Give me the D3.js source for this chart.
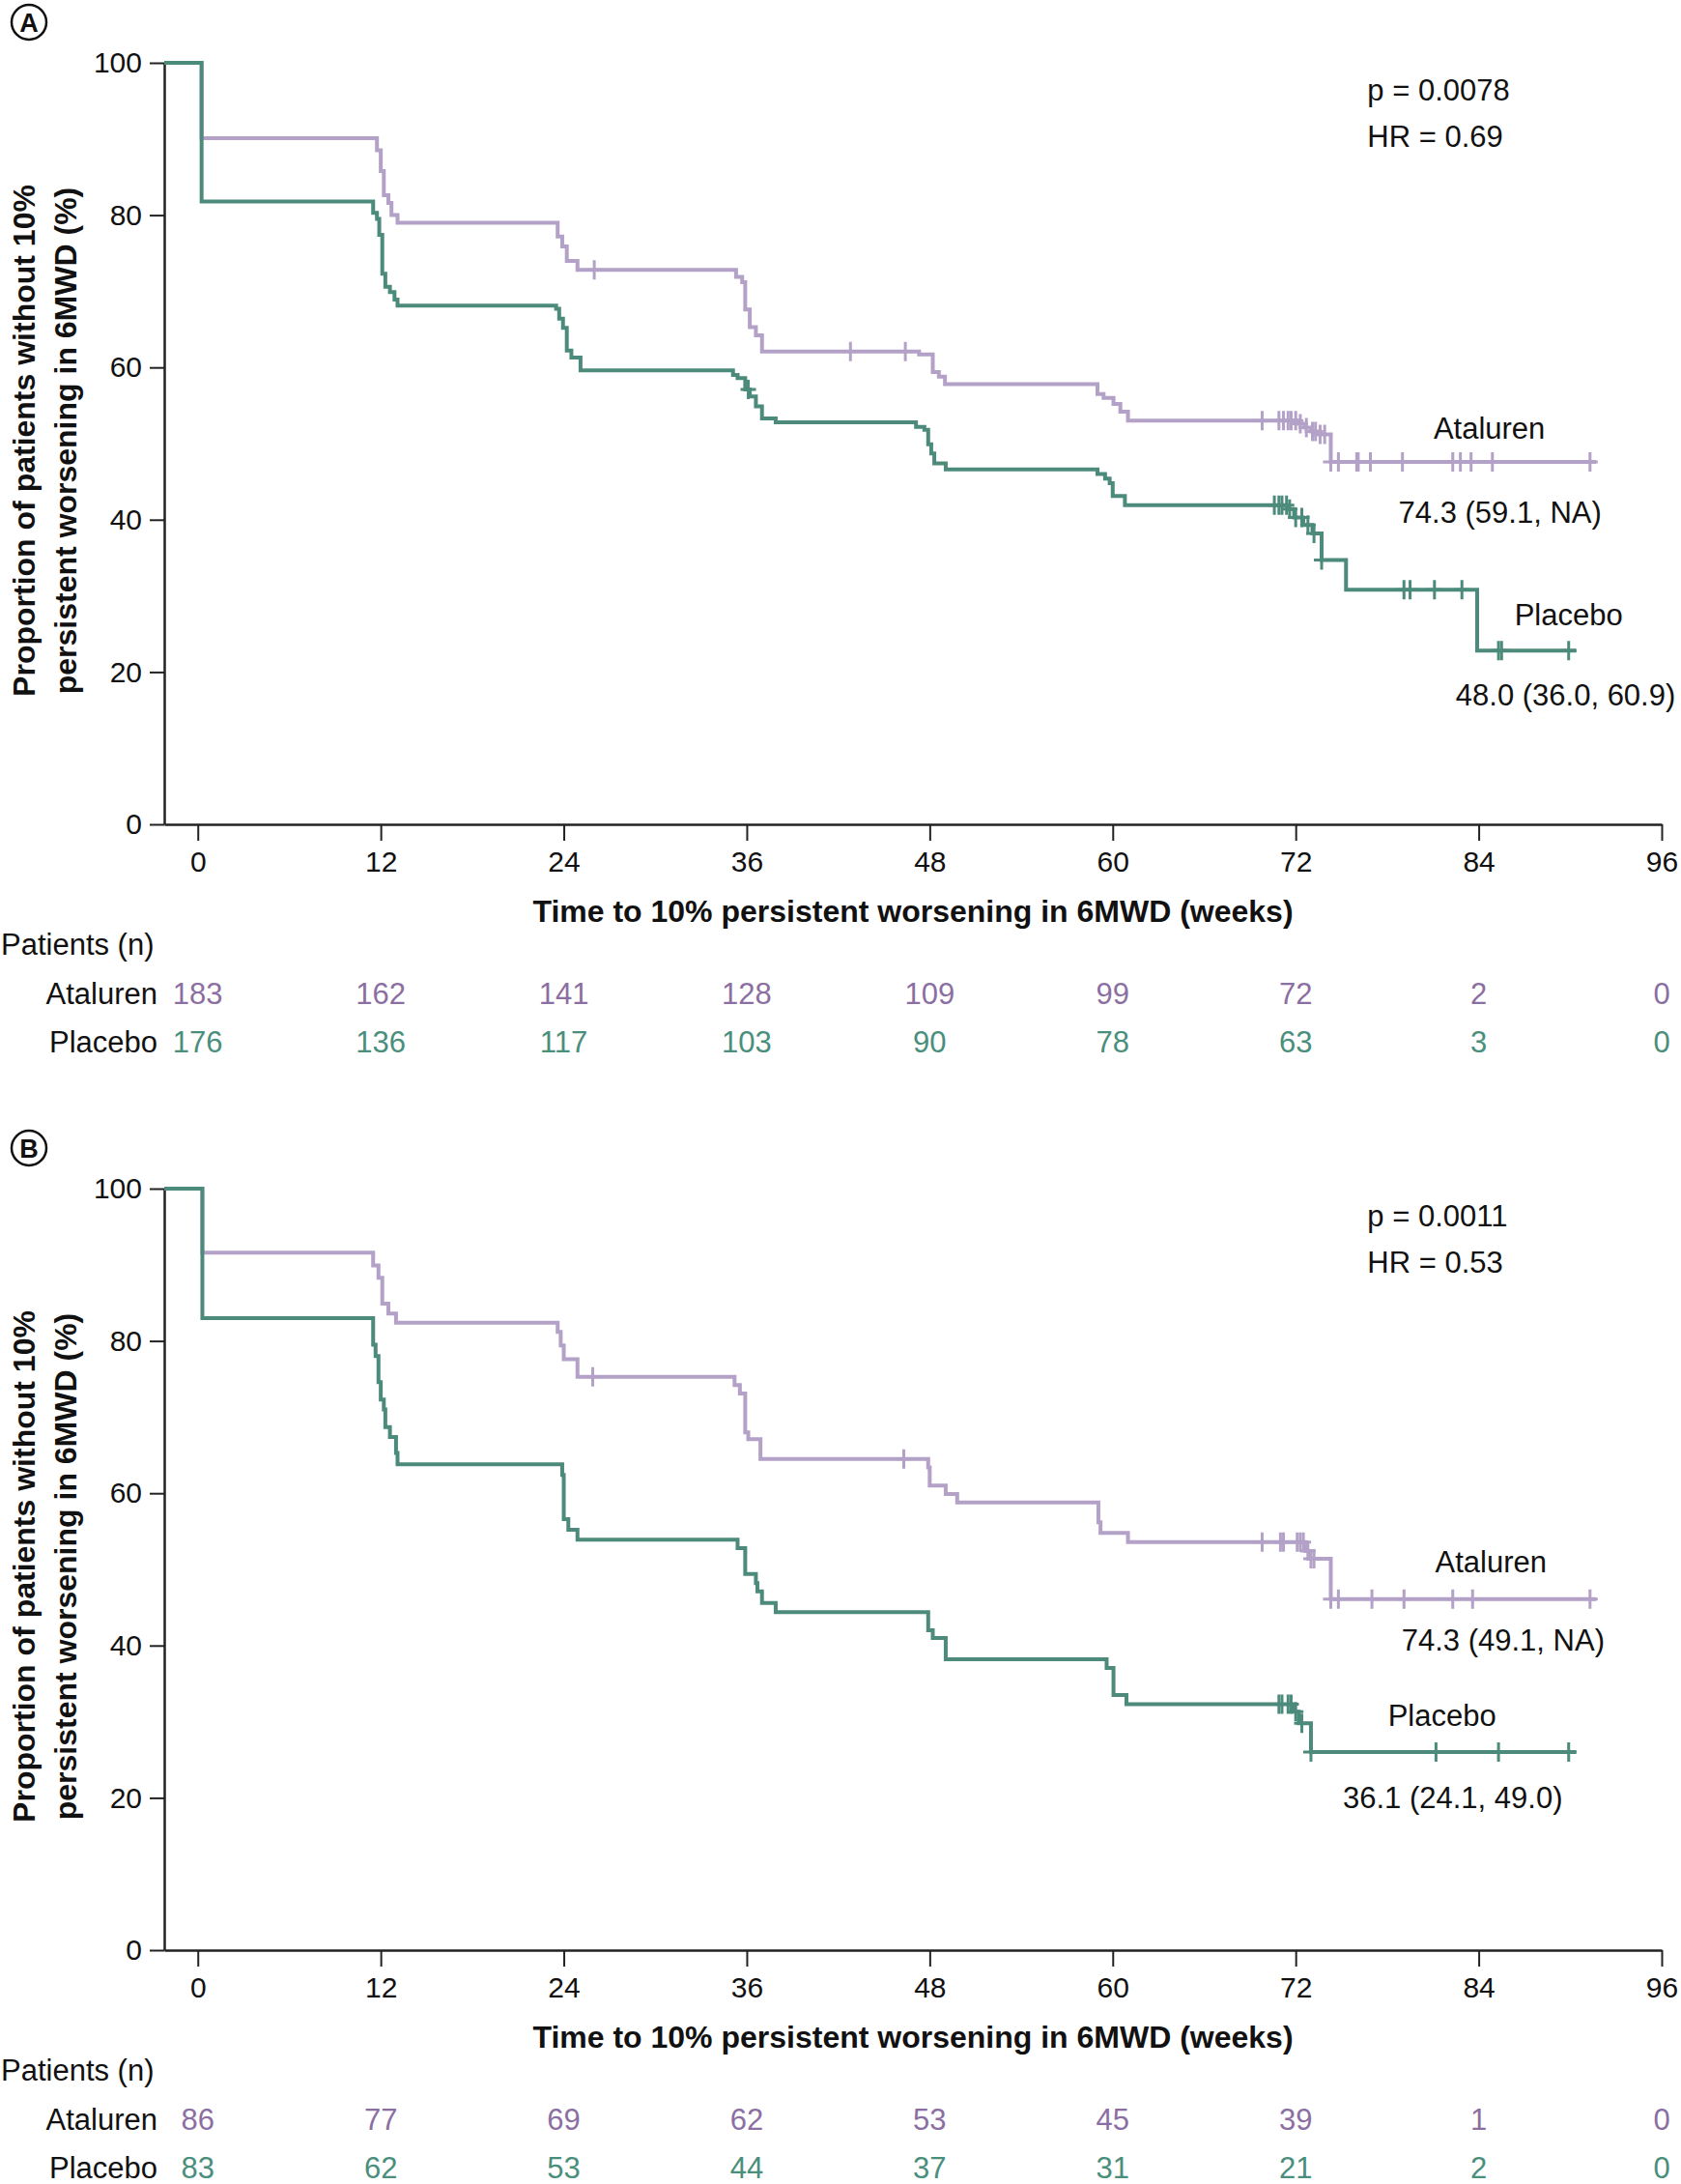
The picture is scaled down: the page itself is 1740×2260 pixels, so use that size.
<!DOCTYPE html>
<html>
<head>
<meta charset="utf-8">
<script src="https://cdn.jsdelivr.net/npm/d3@7"></script>
<style>
  body { margin: 0; background: #fff; }
  svg text { font-family: "Liberation Sans", Arial, sans-serif; fill: #111; }
</style>
</head>
<body>
<div id="chart"></div>
<script>
/* Kaplan-Meier: time to 10% persistent worsening in 6MWD, panels A and B */

const weekTicks = [0, 12, 24, 36, 48, 60, 72, 84, 96];
const pctTicks = [0, 20, 40, 60, 80, 100];
const groups = ["Ataluren", "Placebo"];

// Panel A - steps are [week, % after the drop]
const ataStepsA = [[0.25, 90.1], [11.75, 88.5], [12.0, 85.8], [12.2, 82.6], [12.5, 81.6], [12.7, 80.0],
  [13.1, 79.0], [23.6, 77.2], [23.9, 75.9], [24.2, 74.0], [24.9, 72.8], [35.3, 71.9], [35.7, 71.2],
  [35.9, 67.6], [36.2, 65.3], [36.6, 64.2], [37.0, 62.1], [47.3, 61.7], [48.2, 59.4], [48.6, 58.8],
  [49.0, 57.8], [59.0, 56.5], [59.4, 56.0], [60.05, 55.2], [60.5, 54.2], [61.0, 53.0], [72.2, 52.6],
  [72.6, 52.1], [73.0, 51.6], [73.45, 51.2], [74.3, 47.6]];
const ataCensorA = [26.0, 42.8, 46.4, 69.8, 70.9, 71.2, 71.5, 71.7, 72.0, 72.3, 72.7, 73.1, 73.3,
  73.6, 73.9, 74.3, 74.8, 76.0, 76.1, 76.9, 79.0, 82.3, 82.8, 83.5, 84.9, 91.3];
const ataEndA = 91.7;

const plaStepsA = [[0.25, 81.8], [11.5, 80.3], [11.75, 79.5], [11.9, 77.4], [12.1, 72.3], [12.3, 70.6],
  [12.6, 69.9], [12.9, 68.9], [13.1, 68.1], [23.5, 67.7], [23.7, 66.4], [23.95, 65.2], [24.2, 62.2],
  [24.5, 61.3], [25.1, 59.6], [35.1, 59.0], [35.4, 58.6], [35.9, 57.1], [36.2, 56.2], [36.6, 54.9],
  [37.0, 53.3], [37.9, 52.8], [47.1, 52.2], [47.65, 51.8], [47.9, 49.9], [48.1, 48.7], [48.3, 47.4],
  [49.05, 46.6], [59.0, 46.0], [59.5, 45.4], [59.8, 44.8], [60.0, 43.1], [60.8, 41.9], [71.5, 41.4],
  [71.9, 40.3], [72.5, 39.3], [73.1, 38.2], [73.7, 34.7], [75.3, 30.8], [83.9, 22.8]];
const plaCensorA = [36.1, 70.6, 70.9, 71.1, 71.4, 71.6, 72.0, 72.4, 72.8, 73.2, 73.7, 79.1, 79.5,
  81.1, 82.9, 85.3, 85.5, 89.9];
const plaEndA = 90.4;

const ataRiskA = [183, 162, 141, 128, 109, 99, 72, 2, 0];
const plaRiskA = [176, 136, 117, 103, 90, 78, 63, 3, 0];

// Panel B
const ataStepsB = [[0.3, 91.6], [11.5, 89.9], [11.85, 88.3], [12.1, 84.9], [12.5, 83.6], [13.0, 82.4],
  [23.6, 81.2], [23.8, 79.4], [24.0, 77.6], [24.9, 75.3], [35.2, 74.2], [35.55, 73.1], [35.9, 68.0],
  [36.1, 67.1], [36.9, 64.5], [47.9, 63.4], [48.0, 61.0], [49.05, 59.9], [49.8, 58.8], [59.06, 56.2],
  [59.2, 54.8], [61.0, 53.6], [72.65, 52.4], [72.95, 51.4], [74.3, 46.1]];
const ataCensorB = [25.9, 46.3, 69.8, 71.0, 71.2, 72.1, 72.3, 72.5, 72.8, 73.0, 73.2, 74.3, 74.8,
  77.0, 79.1, 82.3, 83.6, 91.3];
const ataEndB = 91.7;

const plaStepsB = [[0.3, 83.0], [11.5, 79.5], [11.66, 78.0], [11.85, 74.6], [12.0, 72.3], [12.2, 71.0],
  [12.3, 68.7], [12.6, 67.4], [13.0, 65.3], [13.1, 63.8], [23.9, 62.4], [24.0, 56.6], [24.3, 55.2],
  [24.9, 53.9], [35.4, 52.8], [35.9, 49.4], [36.6, 48.2], [36.7, 47.1], [37.0, 45.6], [37.9, 44.4],
  [47.9, 42.0], [48.2, 41.0], [49.05, 38.2], [59.6, 37.05], [60.05, 33.5], [60.9, 32.3], [71.8, 31.3],
  [72.2, 29.8], [73.0, 26.0]];
const plaCensorB = [70.9, 71.1, 71.5, 71.7, 72.0, 72.4, 73.0, 81.2, 85.3, 89.9];
const plaEndB = 90.4;

const ataRiskB = [86, 77, 69, 62, 53, 45, 39, 1, 0];
const plaRiskB = [83, 62, 53, 44, 37, 31, 21, 2, 0];

// annotation texts
const panelLetters = ["A", "B"];
const pValues = ["p = 0.0078", "p = 0.0011"];
const hrValues = ["HR = 0.69", "HR = 0.53"];
const ataMedians = ["74.3 (59.1, NA)", "74.3 (49.1, NA)"];
const plaMedians = ["48.0 (36.0, 60.9)", "36.1 (24.1, 49.0)"];

const width = 1740, height = 2260;
const panelShift = 1165;
const colAta = "#b3a1c7", colPla = "#4c8b7b";
const txtAta = "#8c6fa2", txtPla = "#4a8e7c";

const svg = d3.select("#chart")
  .append("svg")
  .attr("width", width)
  .attr("height", height);

const x = d3.scaleLinear().domain([-2.2, 96]).range([170, 1720]);
const y = d3.scaleLinear().domain([0, 100]).range([853, 65]);

const line = d3.line()
  .x(d => x(d[0]))
  .y(d => y(d[1]))
  .curve(d3.curveStepAfter);

// survival level at time t (after any drop at t)
function levelAt(steps, t) {
  let s = 100;
  for (const d of steps) if (d[0] <= t + 1e-9) s = d[1];
  return s;
}

const panels = [
  { ata: ataStepsA, pla: plaStepsA, ataC: ataCensorA, plaC: plaCensorA, ataEnd: ataEndA, plaEnd: plaEndA,
    ataRisk: ataRiskA, plaRisk: plaRiskA,
    // label anchors in data units [week, %]
    ataLab: [84.7, 50.6], ataMed: [85.4, 39.6], plaLab: [89.9, 26.1], plaMed: [89.7, 15.6] },
  { ata: ataStepsB, pla: plaStepsB, ataC: ataCensorB, plaC: plaCensorB, ataEnd: ataEndB, plaEnd: plaEndB,
    ataRisk: ataRiskB, plaRisk: plaRiskB,
    ataLab: [84.8, 49.6], ataMed: [85.6, 39.4], plaLab: [81.6, 29.5], plaMed: [82.3, 18.6] }
];

panels.forEach((p, i) => {
  const g = svg.append("g").attr("transform", `translate(0,${i * panelShift})`);

  // circled panel letter
  g.append("circle")
    .attr("cx", 30).attr("cy", y(100) - 42).attr("r", 18)
    .attr("fill", "none").attr("stroke", "#111").attr("stroke-width", 2.5);
  g.append("text")
    .attr("x", 30).attr("y", y(100) - 42).attr("dy", "0.36em")
    .attr("text-anchor", "middle")
    .style("font-size", "27px").style("font-weight", "bold")
    .text(panelLetters[i]);

  // axes
  const xAxis = g.append("g")
    .attr("transform", `translate(0,${y(0)})`)
    .call(d3.axisBottom(x).tickValues(weekTicks).tickSize(17).tickSizeOuter(0).tickPadding(11));
  const yAxis = g.append("g")
    .attr("transform", `translate(${x.range()[0]},0)`)
    .call(d3.axisLeft(y).tickValues(pctTicks).tickSize(15).tickSizeOuter(0).tickPadding(8));
  [xAxis, yAxis].forEach(a => {
    a.attr("font-family", null).attr("font-size", null);
    a.select(".domain").attr("stroke", "#222").attr("stroke-width", 2.5);
    a.selectAll(".tick line").attr("stroke", "#222").attr("stroke-width", 2);
    a.selectAll(".tick text").style("font-size", "30px").attr("fill", "#111");
  });

  // axis titles
  g.append("text")
    .attr("x", (x.range()[0] + x.range()[1]) / 2)
    .attr("y", y(0) + 101)
    .attr("text-anchor", "middle")
    .style("font-size", "32px").style("font-weight", "bold")
    .text("Time to 10% persistent worsening in 6MWD (weeks)");

  const yl = g.append("g").attr("transform", `translate(0,${y(50) - 3})`);
  yl.append("text")
    .attr("transform", "translate(36,0) rotate(-90)")
    .attr("text-anchor", "middle")
    .style("font-size", "32px").style("font-weight", "bold")
    .text("Proportion of patients without 10%");
  yl.append("text")
    .attr("transform", "translate(79,0) rotate(-90)")
    .attr("text-anchor", "middle")
    .style("font-size", "32px").style("font-weight", "bold")
    .text("persistent worsening in 6MWD (%)");

  // curves: ataluren first, placebo on top
  const series = [
    { steps: p.ata, cens: p.ataC, end: p.ataEnd, col: colAta },
    { steps: p.pla, cens: p.plaC, end: p.plaEnd, col: colPla }
  ];
  series.forEach(s => {
    const pts = [[x.domain()[0], 100], ...s.steps, [s.end, s.steps[s.steps.length - 1][1]]];
    g.append("path")
      .datum(pts)
      .attr("fill", "none")
      .attr("stroke", s.col)
      .attr("stroke-width", 4)
      .attr("d", line);

    g.selectAll(null)
      .data(s.cens)
      .join("path")
      .attr("fill", "none")
      .attr("stroke", s.col)
      .attr("stroke-width", 3)
      .attr("d", t => {
        const cx = x(t), cy = y(levelAt(s.steps, t));
        return `M${cx - 8},${cy}H${cx + 8}M${cx},${cy - 10}V${cy + 10}`;
      });
  });

  // statistics
  g.append("text")
    .attr("x", x(76.7)).attr("y", y(95))
    .style("font-size", "31px")
    .text(pValues[i]);
  g.append("text")
    .attr("x", x(76.7)).attr("y", y(89))
    .style("font-size", "31px")
    .text(hrValues[i]);

  // curve labels and medians
  const labs = [
    [p.ataLab, groups[0]], [p.ataMed, ataMedians[i]],
    [p.plaLab, groups[1]], [p.plaMed, plaMedians[i]]
  ];
  labs.forEach(([pos, txt]) => {
    g.append("text")
      .attr("x", x(pos[0])).attr("y", y(pos[1]))
      .attr("text-anchor", "middle")
      .style("font-size", "31px")
      .text(txt);
  });

  // number at risk table
  g.append("text")
    .attr("x", 1).attr("y", y(0) + 135)
    .style("font-size", "31px")
    .text("Patients (n)");

  const rows = [
    { name: groups[0], vals: p.ataRisk, col: txtAta, yy: y(0) + 186 },
    { name: groups[1], vals: p.plaRisk, col: txtPla, yy: y(0) + 236 }
  ];
  rows.forEach(r => {
    g.append("text")
      .attr("x", 163).attr("y", r.yy)
      .attr("text-anchor", "end")
      .style("font-size", "31px")
      .text(r.name);
    g.selectAll(null)
      .data(r.vals)
      .join("text")
      .attr("x", (d, k) => x(weekTicks[k]))
      .attr("y", r.yy)
      .attr("text-anchor", "middle")
      .style("font-size", "31px")
      .style("fill", r.col)
      .text(d => d);
  });
});
</script>
</body>
</html>
